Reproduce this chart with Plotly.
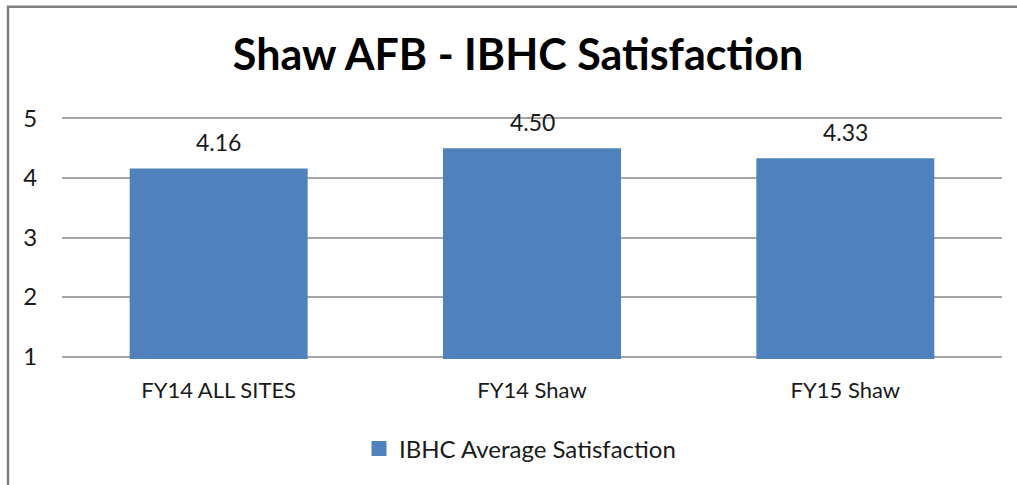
import plotly.graph_objects as go

categories = ["FY14 ALL SITES", "FY14 Shaw", "FY15 Shaw"]
values = [4.16, 4.50, 4.33]
value_labels = ["4.16", "4.50", "4.33"]
series_name = "IBHC Average Satisfaction"
title_text = "Shaw AFB - IBHC Satisfaction"
y_ticks = [1, 2, 3, 4, 5]

W, H = 1017, 485
PAD = 0.04                     # small range padding so edge gridlines are drawn
UNIT = (357 - 118) / 4.0       # pixels per unit on the value axis
L, R = 62, 15
T = 118 - PAD * UNIT
B = H - (357 + PAD * UNIT)
FONT = "Lato"
TXT = "#1a1a1a"
BAR = "#4F81BD"
GRID = "#a6a6a6"

fig = go.Figure()
fig.add_trace(go.Bar(
    x=categories, y=values, name=series_name,
    marker=dict(color=BAR, line=dict(width=0)),
    showlegend=False,
))
# legend entry with a larger square swatch
fig.add_trace(go.Scatter(
    x=[None], y=[None], mode="markers", name=series_name,
    marker=dict(symbol="square", size=15, color=BAR),
    showlegend=True,
))

for c, v, lab in zip(categories, values, value_labels):
    fig.add_annotation(x=c, y=v, text=lab, showarrow=False,
                       yanchor="middle", yshift=26,
                       font=dict(family=FONT, size=23, color=TXT))

pw = W - L - R
ph = H - T - B
def px_x(p):
    return (p - L) / pw
def px_y(p):
    return (H - B - p) / ph

# outer chart border (left and top edges visible)
fig.add_shape(type="path", xref="paper", yref="paper",
              path=f"M {px_x(8)},{px_y(490)} L {px_x(8)},{px_y(6)} L {px_x(1030)},{px_y(6)}",
              line=dict(color="#7f7f7f", width=2.5))

fig.update_layout(
    width=W, height=H,
    margin=dict(l=L, r=R, t=T, b=B, autoexpand=False),
    paper_bgcolor="white", plot_bgcolor="white",
    bargap=0.432,
    title=dict(text=f"<b>{title_text}</b>", x=518 / W, xanchor="center",
               y=1 - 55 / H, yanchor="middle", xref="container", yref="container",
               font=dict(family=FONT, size=43, color="#000000")),
    legend=dict(orientation="h", x=520 / W, xanchor="center", xref="container",
                y=1 - 449 / H, yanchor="middle", yref="container",
                font=dict(family=FONT, size=24, color=TXT)),
    xaxis=dict(showgrid=False, ticks="outside", ticklen=0, ticklabelstandoff=12,
               tickfont=dict(family=FONT, size=22, color=TXT),
               showline=False, zeroline=False),
    yaxis=dict(range=[1 - PAD, 5 + PAD], tickvals=y_ticks, showgrid=True, gridcolor=GRID,
               gridwidth=1.5, zeroline=False, showline=False,
               ticks="outside", ticklen=0, ticklabelstandoff=19,
               tickfont=dict(family=FONT, size=24, color=TXT)),
)

fig.write_html("out.html", config={"displayModeBar": False},
               post_script="document.body.style.margin='0px';")
